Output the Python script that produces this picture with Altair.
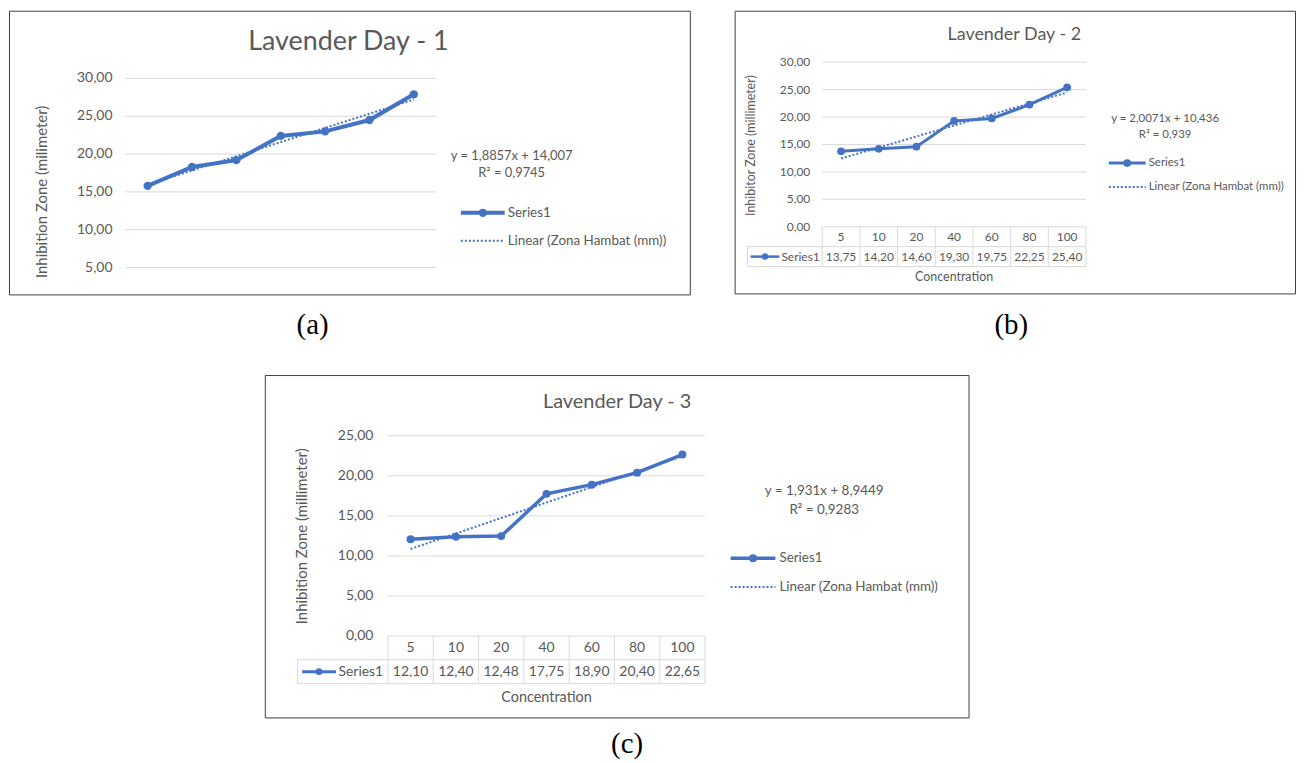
import altair as alt
import pandas as pd

# ---------------- data ----------------
concentrations = ["5", "10", "20", "40", "60", "80", "100"]
day1_values = [15.80, 18.30, 19.20, 22.40, 23.00, 24.50, 27.90]
day2_values = [13.75, 14.20, 14.60, 19.30, 19.75, 22.25, 25.40]
day3_values = [12.10, 12.40, 12.48, 17.75, 18.90, 20.40, 22.65]
day1_ticks = [5, 10, 15, 20, 25, 30]
day2_ticks = [0, 5, 10, 15, 20, 25, 30]
day3_ticks = [0, 5, 10, 15, 20, 25]
titles = ["Lavender Day - 1", "Lavender Day - 2", "Lavender Day - 3"]
y_titles = ["Inhibition Zone (milimeter)", "Inhibitor Zone (millimeter)",
            "Inhibition Zone (millimeter)"]
equations = ["y = 1,8857x + 14,007", "y = 2,0071x + 10,436", "y = 1,931x + 8,9449"]
r2_texts = ["R² = 0,9745", "R² = 0,939", "R² = 0,9283"]
captions = ["(a)", "(b)", "(c)"]
series_name = "Series1"
trend_name = "Linear (Zona Hambat (mm))"
x_title = "Concentration"

BLUE = "#4472C4"
TXT = "#595959"
GRID = "#D9D9D9"
FONT = "Lato"


def fmt(v):
    return f"{v:.2f}".replace(".", ",")


one = pd.DataFrame({"k": [0]})


def txt(s, x, y, fs, color=TXT, font=FONT, **kw):
    return alt.Chart(one).mark_text(text=s, font=font, fontSize=fs, color=color,
                                    baseline="middle", **kw).encode(
        x=alt.value(x), y=alt.value(y))


def key(x0, x1, y, lw, ms, dotted=False):
    if dotted:
        return [alt.Chart(one).mark_rule(color=BLUE, strokeWidth=2, strokeDash=[2, 2]).encode(
            x=alt.value(x0), x2=alt.value(x1), y=alt.value(y))]
    return [
        alt.Chart(one).mark_rule(color=BLUE, strokeWidth=lw).encode(
            x=alt.value(x0), x2=alt.value(x1), y=alt.value(y)),
        alt.Chart(one).mark_point(filled=True, color=BLUE, size=ms, opacity=1).encode(
            x=alt.value((x0 + x1) / 2), y=alt.value(y)),
    ]


def panel(i, values, ticks, g):
    df = pd.DataFrame({"idx": list(range(1, 8)), "value": values,
                       "cat": concentrations, "lbl": [fmt(v) for v in values]})
    tdf = pd.DataFrame({"v": ticks, "lbl": [fmt(t) for t in ticks]})
    xs = alt.Scale(domain=[0.5, 7.5], range=g["xr"], nice=False, zero=False)
    ys = alt.Scale(domain=[0, g["yd"]], range=g["yr"], nice=False, zero=False)
    X = alt.X("idx:Q", scale=xs, axis=None)
    Y = alt.Y("value:Q", scale=ys, axis=None)

    layers = []
    layers.append(alt.Chart(tdf).mark_rule(color=GRID, strokeWidth=1).encode(
        y=alt.Y("v:Q", scale=ys, axis=None),
        x=alt.value(g["xr"][0]), x2=alt.value(g["xr"][1])))
    layers.append(alt.Chart(tdf).mark_text(align="right", baseline="middle", font=FONT,
                                           fontSize=g["ylab_fs"], color=TXT).encode(
        y=alt.Y("v:Q", scale=ys, axis=None), x=alt.value(g["ylab_x"]), text="lbl:N"))

    t = g.get("table")
    if t:
        top = g["yr"][0]
        bdf = pd.DataFrame({"b": [0.5 + k for k in range(8)]})
        layers.append(alt.Chart(bdf).mark_rule(color=GRID).encode(
            x=alt.X("b:Q", scale=xs, axis=None), y=alt.value(top), y2=alt.value(t["bot_y"])))
        for yy in (t["sep_y"], t["bot_y"]):
            layers.append(alt.Chart(one).mark_rule(color=GRID).encode(
                x=alt.value(t["left"]), x2=alt.value(g["xr"][1]), y=alt.value(yy)))
        layers.append(alt.Chart(one).mark_rule(color=GRID).encode(
            x=alt.value(t["left"]), y=alt.value(t["sep_y"]), y2=alt.value(t["bot_y"])))
        layers.append(alt.Chart(df).mark_text(font=FONT, fontSize=t["fs"], color=TXT,
                                              baseline="middle").encode(
            x=X, y=alt.value(t["cat_y"]), text="cat:N"))
        layers.append(alt.Chart(df).mark_text(font=FONT, fontSize=t["fs"], color=TXT,
                                              baseline="middle").encode(
            x=X, y=alt.value(t["val_y"]), text="lbl:N"))
        layers += key(t["key_x0"], t["key_x1"], t["val_y"], g["lw"] - 0.5, g["ms"] * 0.7)
        layers.append(txt(series_name, t["key_tx"], t["val_y"], t["fs"], align="left"))
        layers.append(txt(x_title, (g["xr"][0] + g["xr"][1]) / 2, t["xt_y"], t["xt_fs"]))

    tx, ty, tfs = g["title"]
    layers.append(txt(titles[i], tx, ty, tfs))
    yx, yy, yfs = g["ytitle"]
    layers.append(txt(y_titles[i], yx, yy, yfs, angle=270))
    ex, ey, efs = g["eq"]
    layers.append(txt(equations[i], ex, ey, efs))
    layers.append(txt(r2_texts[i], ex, g["r2y"], efs))
    layers += key(g["leg_x0"], g["leg_x1"], g["leg_y1"], g["lw"], g["ms"])
    layers.append(txt(series_name, g["leg_tx"], g["leg_y1"], g["leg_fs"], align="left"))
    layers += key(g["leg_x0"], g["leg_x1"], g["leg_y2"], 2, 0, dotted=True)
    layers.append(txt(trend_name, g["leg_tx"], g["leg_y2"], g["leg_fs"], align="left"))
    cx, cy = g["cap"]
    layers.append(txt(captions[i], cx, cy, 29, color="#000000", font="Liberation Serif"))

    layers.append(alt.Chart(df).mark_line(color=BLUE, strokeWidth=g["lw"]).encode(x=X, y=Y))
    layers.append(alt.Chart(df).mark_point(filled=True, color=BLUE, size=g["ms"],
                                           opacity=1).encode(x=X, y=Y))
    layers.append(alt.Chart(df).transform_regression("idx", "value").mark_line(
        color=BLUE, strokeWidth=2, strokeDash=[2, 2]).encode(x=X, y=Y))
    return alt.layer(*layers).properties(width=g["W"], height=g["H"])


GA = dict(W=684, H=285, xr=[117, 429], yd=30, yr=[296, 68], ylab_x=104, ylab_fs=14,
          title=(341, 31, 27), ytitle=(33, 182, 15), eq=(505, 146, 13), r2y=163,
          leg_x0=454, leg_x1=498, leg_tx=501, leg_y1=203, leg_y2=231, leg_fs=13.5,
          cap=(305, 316), lw=4, ms=70)
GB = dict(W=563, H=284, xr=[88, 353], yd=30, yr=[217, 51.7], ylab_x=76, ylab_fs=12,
          title=(281, 24, 18), ytitle=(16, 135.5, 12.5), eq=(432.5, 109, 11.5), r2y=125,
          leg_x0=376, leg_x1=413, leg_tx=416, leg_y1=153, leg_y2=177, leg_fs=11.5,
          cap=(278, 316), lw=3, ms=60,
          table=dict(cat_y=227, val_y=247, sep_y=237, bot_y=257, left=13, key_x0=16,
                     key_x1=45, key_tx=47, fs=12, xt_y=268, xt_fs=12.5))
GC = dict(W=707, H=344, xr=[123.7, 442.3], yd=25, yr=[262.3, 61], ylab_x=109, ylab_fs=14,
          title=(354, 27, 20), ytitle=(37.5, 162, 15), eq=(562, 117, 13.5), r2y=136,
          leg_x0=468, leg_x1=513, leg_tx=517, leg_y1=184, leg_y2=213, leg_fs=13.5,
          cap=(364, 371), lw=3.5, ms=64,
          table=dict(cat_y=274, val_y=298, sep_y=286, bot_y=310, left=33, key_x0=37.5,
                     key_x1=71.5, key_tx=74, fs=14, xt_y=324, xt_fs=14.5))

pa = panel(0, day1_values, day1_ticks, GA)
pb = panel(1, day2_values, day2_ticks, GB)
pc = panel(2, day3_values, day3_ticks, GC)

spacer = alt.Chart(one).mark_text(text="").encode(
    x=alt.value(0), y=alt.value(0)).properties(
    width=255, height=344, view=alt.ViewBackground(stroke="transparent"))

chart = alt.vconcat(
    alt.hconcat(pa, pb, spacing=43),
    alt.hconcat(spacer, pc, spacing=0),
    spacing=27,
).properties(padding=0, background="white").configure_view(stroke="#404040", strokeWidth=1)

chart.save("out.html", embed_options={"renderer": "svg", "actions": False})
